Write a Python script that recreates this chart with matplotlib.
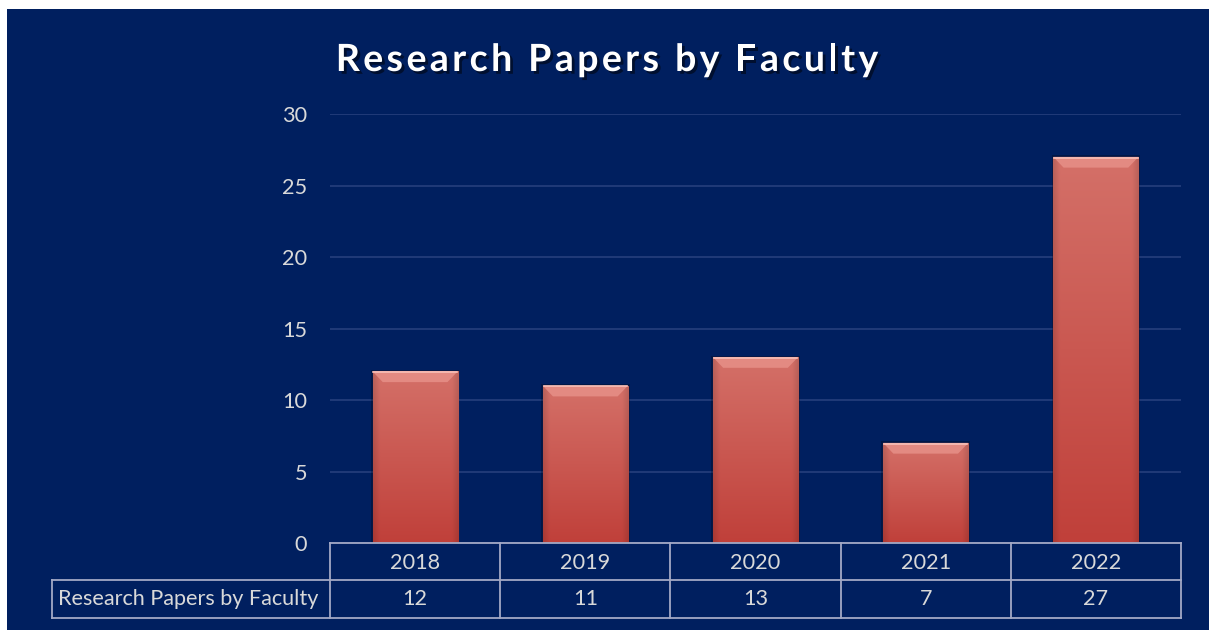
import matplotlib
matplotlib.use("Agg")
import matplotlib.pyplot as plt
import matplotlib.patheffects as pe
from matplotlib.patches import Rectangle, Polygon
from matplotlib.transforms import blended_transform_factory
import numpy as np

years = ["2018", "2019", "2020", "2021", "2022"]
papers = [12, 11, 13, 7, 27]
series_name = "Research Papers by Faculty"
title = "Research Papers by Faculty"
yticks = [0, 5, 10, 15, 20, 25, 30]

navy = "#001F5F"
txt = "#D9D9D9"
line_c = "#A3A9C6"
fs = 15.6

plt.rcParams["font.family"] = ["Lato", "DejaVu Sans"]

fig = plt.figure(figsize=(12.09, 6.30), dpi=100)
fig.patch.set_facecolor("white")
fig.patches.append(Rectangle((7 / 1209, 0), 1, 1 - 9 / 630, transform=fig.transFigure,
                             facecolor=navy, edgecolor="none", zorder=-10))

ax = fig.add_axes([330 / 1209, 1 - 543 / 630, 851 / 1209, 429 / 630])
ax.set_facecolor(navy)
x = np.arange(len(years))
ax.set_yticks(yticks)
ax.set_xticks([])
ax.tick_params(axis="y", length=0, pad=16.5, labelsize=fs, labelcolor=txt)
for s in ax.spines.values():
    s.set_visible(False)
ax.grid(axis="y", color="#263F7C", lw=1.2)
ax.set_axisbelow(True)

# bars with gradient fill and bevelled top
bars = ax.bar(x, papers, width=0.5, color="none", edgecolor="#9C3A35", lw=0.8, zorder=3)
ny, nx = 100, 60
t = np.linspace(0, 1, ny)[:, None]
top = np.array([212, 112, 104]) / 255
bot = np.array([192, 64, 58]) / 255
grad = top * (1 - t[..., None]) + bot * t[..., None]
edge = np.linspace(-1, 1, nx)
shade = 1 - 0.12 * np.clip((np.abs(edge) - 0.85) / 0.15, 0, 1)
img = grad * shade[None, :, None]
img = np.broadcast_to(img, (ny, nx, 3)).copy()
for b, v in zip(bars, papers):
    x0 = b.get_x()
    w = b.get_width()
    ax.add_patch(Rectangle((x0 - 0.01, 0), w + 0.02, v + 0.1, facecolor="black",
                           alpha=0.25, edgecolor="none", zorder=2))
    im = ax.imshow(img, extent=[x0, x0 + w, 0, v], aspect="auto", zorder=3,
                   interpolation="bilinear")
    im.set_clip_path(b)
    dx, dy = 0.06, 0.75
    ax.add_patch(Polygon([(x0, v), (x0 + w, v), (x0 + w - dx, v - dy), (x0 + dx, v - dy)],
                         closed=True, facecolor="#E38A82", edgecolor="none", zorder=4))
    ax.plot([x0 + 0.005, x0 + w - 0.005], [v - 0.05, v - 0.05], color="#F8C0B8", lw=1.2, zorder=5)
ax.set_xlim(-0.5, len(years) - 0.5)
ax.set_ylim(0, 30)

# data table under the axes
tr = blended_transform_factory(ax.transData, ax.transAxes)
y1, y2, y3 = 0.0, -37 / 429, -75 / 429
xl = (52 - 330) / 851
kw = dict(color=line_c, lw=1.3, clip_on=False, zorder=6)
ax.plot([-0.5, 4.5], [y1, y1], transform=tr, **kw)
ax.plot([xl, 1], [y2, y2], transform=ax.transAxes, **kw)
ax.plot([xl, 1], [y3, y3], transform=ax.transAxes, **kw)
ax.plot([xl, xl], [y2, y3], transform=ax.transAxes, **kw)
for b in np.arange(len(years) + 1) - 0.5:
    ax.plot([b, b], [y1, y3], transform=tr, **kw)
for xi, yr, v in zip(x, years, papers):
    ax.text(xi, (y1 + y2) / 2 - 0.003, yr, transform=tr, ha="center", va="center",
            color=txt, fontsize=fs)
    ax.text(xi, (y2 + y3) / 2, str(v), transform=tr, ha="center", va="center",
            color=txt, fontsize=fs)
ax.text(xl + 6 / 851, (y2 + y3) / 2, series_name, transform=ax.transAxes, ha="left",
        va="center", color=txt, fontsize=fs)

# title with letter spacing
renderer = fig.canvas.get_renderer()
tkw = dict(color="white", fontsize=27, fontweight="bold", va="center", ha="left",
           path_effects=[pe.withSimplePatchShadow(offset=(2, -2), shadow_rgbFace="black", alpha=0.5)])


def text_width(s):
    tt = fig.text(0, 0, s + "|", **tkw)
    wd = tt.get_window_extent(renderer).width
    tt.remove()
    bar = fig.text(0, 0, "|", **tkw)
    wb = bar.get_window_extent(renderer).width
    bar.remove()
    return wd - wb


spacing = 3.4
full = text_width(title) + spacing * (len(title) - 1)
x_start = 607 - full / 2
ty = 1 - 60 / 630
for i, ch in enumerate(title):
    px = x_start + text_width(title[:i]) + spacing * i
    fig.text(px / 1209, ty, ch, **tkw)

fig.savefig("out.png", dpi=100, facecolor=fig.get_facecolor())
